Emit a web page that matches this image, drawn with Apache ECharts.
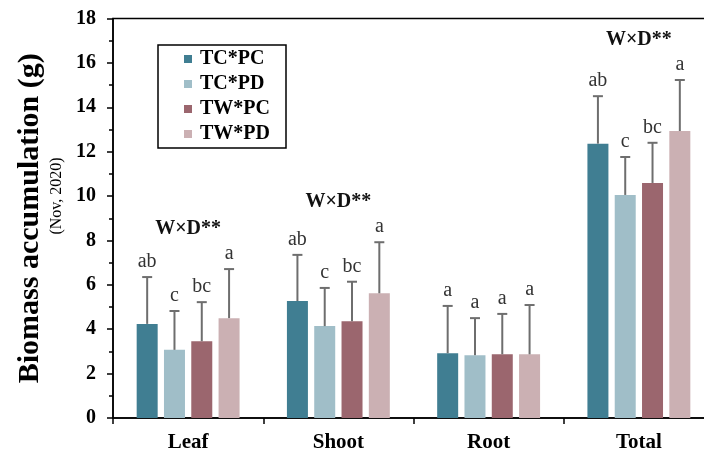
<!DOCTYPE html>
<html>
<head>
<meta charset="utf-8">
<script src="https://cdn.jsdelivr.net/npm/echarts@6/dist/echarts.min.js"></script>
<style>html,body{margin:0;padding:0;background:#fff}#c{width:704px;height:452px}</style>
</head>
<body>
<div id="c"></div>
<script>
var categories = ['Leaf', 'Shoot', 'Root', 'Total'];
var seriesNames = ['TC*PC', 'TC*PD', 'TW*PC', 'TW*PD'];
var colors = ['#407e92', '#a0bec8', '#9b666e', '#cbb0b3'];
var meanTCPC = [4.24, 5.27, 2.92, 12.36];
var meanTCPD = [3.07, 4.14, 2.83, 10.05];
var meanTWPC = [3.46, 4.36, 2.87, 10.59];
var meanTWPD = [4.50, 5.62, 2.87, 12.93];
var sdTCPC = [2.11, 2.08, 2.13, 2.14];
var sdTCPD = [1.75, 1.72, 1.67, 1.71];
var sdTWPC = [1.76, 1.78, 1.82, 1.81];
var sdTWPD = [2.21, 2.30, 2.22, 2.30];
var lettersTCPC = ['ab', 'ab', 'a', 'ab'];
var lettersTCPD = ['c', 'c', 'a', 'c'];
var lettersTWPC = ['bc', 'bc', 'a', 'bc'];
var lettersTWPD = ['a', 'a', 'a', 'a'];
var interaction = ['W×D**', 'W×D**', '', 'W×D**'];
var yTicks = { min: 0, max: 18, interval: 2 };

var means = [meanTCPC, meanTCPD, meanTWPC, meanTWPD];
var sds = [sdTCPC, sdTCPD, sdTWPC, sdTWPD];
var letters = [lettersTCPC, lettersTCPD, lettersTWPC, lettersTWPD];

var BAR_W = 21;
var GAP_RATIO = 0.3;
var SERIF = 'Liberation Serif, Times New Roman, serif';

function offsetFor(k) {
  var step = BAR_W * (1 + GAP_RATIO);
  return (k - 1.5) * step;
}

var series = [];
seriesNames.forEach(function (name, k) {
  series.push({
    name: name,
    type: 'bar',
    barWidth: BAR_W,
    barGap: (GAP_RATIO * 100) + '%',
    itemStyle: { color: colors[k] },
    z: 3,
    data: means[k]
  });
});
seriesNames.forEach(function (name, k) {
  series.push({
    type: 'custom',
    z: 4,
    silent: true,
    data: means[k].map(function (m, i) { return [i, m, sds[k][i]]; }),
    renderItem: function (params, api) {
      var i = api.value(0);
      var m = api.value(1);
      var s = api.value(2);
      var x = api.coord([i, 0])[0] + offsetFor(k);
      var yM = api.coord([i, m])[1];
      var yT = api.coord([i, m + s])[1];
      var st = { stroke: '#6e6e6e', lineWidth: 2 };
      return {
        type: 'group',
        children: [
          { type: 'line', shape: { x1: x, y1: yM, x2: x, y2: yT }, style: st },
          { type: 'line', shape: { x1: x - 5, y1: yT, x2: x + 5, y2: yT }, style: st },
          { type: 'text', x: x, y: yT - 15, style: {
              text: letters[k][params.dataIndex], fill: '#333', font: '20px ' + SERIF,
              textAlign: 'center', textVerticalAlign: 'middle' } }
        ]
      };
    }
  });
});
series.push({
  type: 'custom',
  z: 4,
  silent: true,
  data: categories.map(function (c, i) {
    var top = 0;
    for (var k = 0; k < 4; k++) top = Math.max(top, means[k][i] + sds[k][i]);
    return [i, top];
  }),
  renderItem: function (params, api) {
    var p = api.coord([api.value(0), api.value(1)]);
    return { type: 'text', x: p[0], y: p[1] - 40, style: {
      text: interaction[params.dataIndex], fill: '#111', font: 'bold 20px ' + SERIF,
      textAlign: 'center', textVerticalAlign: 'middle' } };
  }
});

var chart = echarts.init(document.getElementById('c'));
chart.setOption({
  animation: false,
  backgroundColor: '#fff',
  grid: { left: 113, right: -10, top: 18.5, bottom: 34, show: true, borderColor: '#000', borderWidth: 1.5, outerBoundsMode: 'none' },
  legend: {
    data: seriesNames,
    orient: 'vertical',
    left: 158, top: 45,
    icon: 'rect', itemWidth: 8, itemHeight: 8, itemGap: 5,
    borderColor: '#000', borderWidth: 1.5,
    padding: [4, 16, 4, 26],
    textStyle: { fontFamily: SERIF, fontWeight: 'bold', fontSize: 20, color: '#000', padding: [0, 0, 0, 3] }
  },
  xAxis: {
    type: 'category',
    data: categories,
    axisLine: { lineStyle: { color: '#000', width: 1.5 } },
    axisTick: { show: true, length: 6, lineStyle: { color: '#000', width: 1.5 } },
    axisLabel: { fontFamily: SERIF, fontWeight: 'bold', fontSize: 21, color: '#000', margin: 14 }
  },
  yAxis: {
    type: 'value',
    min: yTicks.min, max: yTicks.max, interval: yTicks.interval,
    name: 'Biomass accumulation (g)',
    nameLocation: 'middle',
    nameGap: 68,
    nameTextStyle: { fontFamily: SERIF, fontWeight: 'bold', fontSize: 30, color: '#000' },
    axisLine: { show: true, lineStyle: { color: '#000', width: 1.5 } },
    axisTick: { show: true, length: 6, lineStyle: { color: '#000', width: 1.5 } },
    minorTick: { show: true, splitNumber: 2, length: 4, lineStyle: { color: '#000', width: 1.5 } },
    splitLine: { show: false },
    axisLabel: { fontFamily: SERIF, fontWeight: 'bold', fontSize: 20, color: '#000', margin: 17 }
  },
  graphic: [{
    type: 'text', x: 57, y: 196, rotation: Math.PI / 2,
    style: { text: '(Nov, 2020)', font: '16px ' + SERIF, fill: '#000', textAlign: 'center', textVerticalAlign: 'middle' }
  }],
  series: series
});
</script>
</body>
</html>
